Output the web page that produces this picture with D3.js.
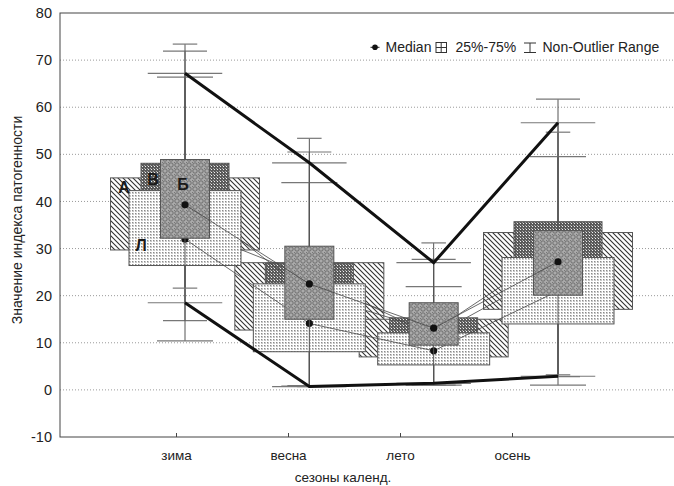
<!DOCTYPE html>
<html>
<head>
<meta charset="utf-8">
<script src="https://cdn.jsdelivr.net/npm/d3@7"></script>
<style>
  body { margin: 0; background: #fff; }
  svg { display: block; font-family: Arial, "Liberation Sans", sans-serif; }
</style>
</head>
<body>
<svg id="chart" width="674" height="486"></svg>
<script>
// ---- data ----
const seasons = ["зима", "весна", "лето", "осень"];
const yTicks = [-10, 0, 10, 20, 30, 40, 50, 60, 70, 80];

// group А
const q1A  = [29.7, 12.7, 7.0, 17.1];
const q3A  = [45.0, 27.0, 15.0, 33.4];
const medA = [34.5, 24.0, 11.5, 26.0];
const minA = [18.5, 0.7, 1.4, 2.9];
const maxA = [67.2, 48.2, 27.0, 56.7];

// group В
const q1V  = [33.0, 17.0, 10.5, 25.0];
const q3V  = [48.1, 26.9, 15.3, 35.7];
const medV = [41.0, 20.5, 12.5, 30.0];
const minV = [14.7, 0.9, 1.0, 2.8];
const maxV = [71.9, 50.5, 27.7, 61.7];

// group Л
const q1L  = [26.4, 8.1, 5.3, 14.0];
const q3L  = [42.3, 22.5, 12.1, 28.1];
const medL = [32.0, 14.1, 8.3, 21.0];
const minL = [10.4, 0.8, 1.0, 1.0];
const maxL = [66.4, 44.0, 21.9, 49.5];

// group Б
const q1B  = [32.2, 15.0, 9.5, 20.1];
const q3B  = [48.9, 30.5, 18.5, 33.8];
const medB = [39.3, 22.5, 13.1, 27.2];
const minB = [21.6, 0.7, 1.0, 3.2];
const maxB = [73.4, 53.4, 31.2, 54.7];

// drawing order: back to front
const groups = [
  { name: "А", q1: q1A, q3: q3A, med: medA, min: minA, max: maxA },
  { name: "В", q1: q1V, q3: q3V, med: medV, min: minV, max: maxV },
  { name: "Л", q1: q1L, q3: q3L, med: medL, min: minL, max: maxL },
  { name: "Б", q1: q1B, q3: q3B, med: medB, min: minB, max: maxB }
];

// ---- look ----
const style = {
  "А": { width: 149, fill: "url(#patA)", label: { dx: -61, ref: "q3", dy: 15.5 } },
  "В": { width: 88,  fill: "url(#patV)", label: { dx: -32, ref: "q3", dy: 21.5 } },
  "Л": { width: 112, fill: "url(#patL)", label: { dx: -44, ref: "q1", dy: -14.5 } },
  "Б": { width: 49,  fill: "url(#patB)", label: { dx: -2,  ref: "q3", dy: 30.5 } }
};

const svg = d3.select("#chart");
const plot = { left: 60, top: 13, right: 676, bottom: 437 };

const y = d3.scaleLinear().domain([-10, 80]).range([plot.bottom, plot.top]);
const xTick = d3.scalePoint().domain(seasons).range([176, 512]);
const xBox = d3.scalePoint().domain(seasons).range([185, 558]);

// ---- fill patterns ----
const defs = svg.append("defs");

// diagonal hatch
const pA = defs.append("pattern").attr("id", "patA").attr("patternUnits", "userSpaceOnUse")
  .attr("width", 5).attr("height", 5);
pA.append("rect").attr("width", 5).attr("height", 5).attr("fill", "#fff");
pA.append("path").attr("d", "M0,0L5,5M-1,4L1,6M4,-1L6,1")
  .attr("stroke", "#333").attr("stroke-width", 1.1);

// dark check
const pV = defs.append("pattern").attr("id", "patV").attr("patternUnits", "userSpaceOnUse")
  .attr("width", 3).attr("height", 3);
pV.append("rect").attr("width", 3).attr("height", 3).attr("fill", "#5a5a5a");
pV.append("rect").attr("x", 1).attr("y", 1).attr("width", 1).attr("height", 1).attr("fill", "#f0f0f0");
pV.append("rect").attr("x", 0).attr("y", 0).attr("width", 1).attr("height", 1).attr("fill", "#a8a8a8");

// light dots
const pL = defs.append("pattern").attr("id", "patL").attr("patternUnits", "userSpaceOnUse")
  .attr("width", 3).attr("height", 3);
pL.append("rect").attr("width", 3).attr("height", 3).attr("fill", "#fff");
pL.append("rect").attr("width", 2).attr("height", 2).attr("fill", "#c8c8c8");
pL.append("rect").attr("width", 1).attr("height", 1).attr("fill", "#8a8a8a");

// grey rings
const pB = defs.append("pattern").attr("id", "patB").attr("patternUnits", "userSpaceOnUse")
  .attr("width", 6).attr("height", 6);
pB.append("rect").attr("width", 6).attr("height", 6).attr("fill", "#aaaaaa");
pB.append("circle").attr("cx", 3).attr("cy", 3).attr("r", 2.2)
  .attr("fill", "none").attr("stroke", "#666").attr("stroke-width", 0.9);
pB.append("rect").attr("x", 0).attr("y", 0).attr("width", 1).attr("height", 1).attr("fill", "#777");

// ---- grid ----
svg.append("g").selectAll("line")
  .data(yTicks.filter(t => t > -10 && t < 80))
  .join("line")
  .attr("x1", plot.left).attr("x2", 674)
  .attr("y1", d => y(d)).attr("y2", d => y(d))
  .attr("stroke", "#9a9a9a").attr("stroke-width", 1)
  .attr("stroke-dasharray", "1,2");

// ---- boxes, whiskers, median lines ----
const lineGen = d3.line().x((d, i) => xBox(seasons[i])).y(d => y(d));

groups.forEach(g => {
  const st = style[g.name];
  const w = st.width;
  const layer = svg.append("g").attr("class", "group-" + g.name);

  layer.selectAll("rect.box")
    .data(seasons)
    .join("rect")
    .attr("class", "box")
    .attr("x", s => xBox(s) - w / 2)
    .attr("y", (s, i) => y(g.q3[i]))
    .attr("width", w)
    .attr("height", (s, i) => y(g.q1[i]) - y(g.q3[i]))
    .attr("fill", st.fill)
    .attr("stroke", "#555")
    .attr("stroke-width", 1);

  // whisker stems
  layer.selectAll("line.up")
    .data(seasons).join("line").attr("class", "up")
    .attr("x1", s => xBox(s)).attr("x2", s => xBox(s))
    .attr("y1", (s, i) => y(g.q3[i])).attr("y2", (s, i) => y(g.max[i]))
    .attr("stroke", "#555").attr("stroke-width", 1);
  layer.selectAll("line.down")
    .data(seasons).join("line").attr("class", "down")
    .attr("x1", s => xBox(s)).attr("x2", s => xBox(s))
    .attr("y1", (s, i) => y(g.q1[i])).attr("y2", (s, i) => y(g.min[i]))
    .attr("stroke", "#555").attr("stroke-width", 1);

  // whisker caps
  ["max", "min"].forEach(k => {
    layer.selectAll("line.cap-" + k)
      .data(seasons).join("line").attr("class", "cap-" + k)
      .attr("x1", s => xBox(s) - w / 4).attr("x2", s => xBox(s) + w / 4)
      .attr("y1", (s, i) => y(g[k][i])).attr("y2", (s, i) => y(g[k][i]))
      .attr("stroke", "#777").attr("stroke-width", 1.2);
  });

  // median line and points
  layer.append("path")
    .attr("d", lineGen(g.med))
    .attr("fill", "none").attr("stroke", "#444").attr("stroke-width", 0.8);
  layer.selectAll("circle.med")
    .data(seasons).join("circle").attr("class", "med")
    .attr("cx", s => xBox(s)).attr("cy", (s, i) => y(g.med[i]))
    .attr("r", 3.6).attr("fill", "#111");
});

// ---- envelope of group А extremes ----
const envGroup = groups[0];
[envGroup.max, envGroup.min].forEach(vals => {
  svg.append("path")
    .attr("d", lineGen(vals))
    .attr("fill", "none").attr("stroke", "#111").attr("stroke-width", 3)
    .attr("stroke-linejoin", "miter");
});

// ---- group labels on the first season ----
groups.forEach(g => {
  const st = style[g.name];
  const s0 = seasons[0];
  svg.append("text")
    .attr("x", xBox(s0) + st.label.dx)
    .attr("y", y(g[st.label.ref][0]) + st.label.dy)
    .attr("text-anchor", "middle")
    .attr("font-size", 16).attr("font-weight", "bold").attr("fill", "#1a1a1a")
    .text(g.name);
});

// ---- frame ----
svg.append("rect")
  .attr("x", plot.left).attr("y", plot.top)
  .attr("width", plot.right - plot.left).attr("height", plot.bottom - plot.top)
  .attr("fill", "none").attr("stroke", "#444").attr("stroke-width", 1);

// ---- axes ----
const yAxis = svg.append("g")
  .attr("transform", `translate(${plot.left},0)`)
  .call(d3.axisLeft(y).tickValues(yTicks).tickFormat(d => String(d)).tickSize(0).tickPadding(8));
yAxis.select(".domain").remove();
yAxis.selectAll("text").attr("font-size", 14.5).attr("fill", "#222")
  .attr("font-family", "Arial, 'Liberation Sans', sans-serif");

const xAxis = svg.append("g")
  .attr("transform", `translate(0,${plot.bottom})`)
  .call(d3.axisBottom(xTick).tickSize(-4).tickPadding(13));
xAxis.select(".domain").remove();
xAxis.selectAll("line").attr("stroke", "#444");
xAxis.selectAll("text").attr("font-size", 13.5).attr("fill", "#222")
  .attr("font-family", "Arial, 'Liberation Sans', sans-serif");

// axis titles
svg.append("text")
  .attr("x", 343).attr("y", 482)
  .attr("text-anchor", "middle").attr("font-size", 13.5).attr("fill", "#222")
  .text("сезоны календ.");
svg.append("text")
  .attr("transform", "translate(22,220) rotate(-90)")
  .attr("text-anchor", "middle").attr("font-size", 14).attr("fill", "#222")
  .text("Значение индекса патогенности");

// ---- legend ----
const lg = svg.append("g").attr("font-size", 14).attr("fill", "#222");
lg.append("line").attr("x1", 370.5).attr("x2", 379.5).attr("y1", 47.3).attr("y2", 47.3)
  .attr("stroke", "#222").attr("stroke-width", 1);
lg.append("circle").attr("cx", 375).attr("cy", 47.3).attr("r", 2.8).attr("fill", "#111");
lg.append("text").attr("x", 385.5).attr("y", 52).text("Median");
lg.append("rect").attr("x", 436).attr("y", 42.5).attr("width", 10.5).attr("height", 10)
  .attr("fill", "#fff").attr("stroke", "#333");
lg.append("path").attr("d", "M441.2,42.5V52.5M436,47.5H446.5").attr("stroke", "#333");
lg.append("text").attr("x", 455.5).attr("y", 52).text("25%-75%");
lg.append("path").attr("d", "M524,43H536M530,43V52.5M524,52.5H536")
  .attr("stroke", "#333").attr("fill", "none");
lg.append("text").attr("x", 542.5).attr("y", 52).text("Non-Outlier Range");
</script>
</body>
</html>
